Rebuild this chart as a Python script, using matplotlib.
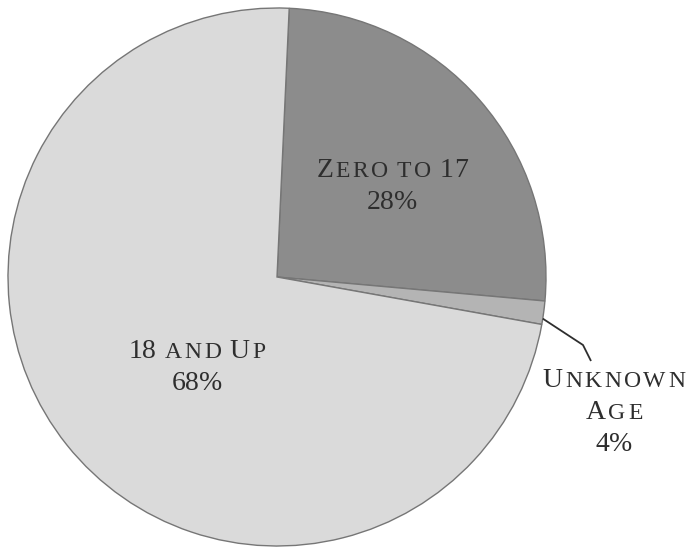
import numpy as np
import matplotlib
matplotlib.use("Agg")
import matplotlib.pyplot as plt

# slice sizes as drawn in the picture, and the labels printed on it
groups = ["Zero to 17", "Unknown Age", "18 and Up"]
shares = [25.7, 1.4, 72.9]
pct_labels = ["28%", "4%", "68%"]
colors = ["#8c8c8c", "#b4b4b4", "#dadada"]

W, H = 692, 552
fig = plt.figure(figsize=(W / 100, H / 100), dpi=100)
ax = fig.add_axes([0, 0, 1, 1])

cx, cy, R = 277, H - 277, 269
wedges, _ = ax.pie(shares, colors=colors, startangle=87.4, counterclock=False,
                   center=(cx, cy), radius=R, frame=True,
                   wedgeprops=dict(edgecolor="#767676", linewidth=1.0))
ax.set_xlim(0, W)
ax.set_ylim(0, H)
ax.set_aspect("equal")
ax.axis("off")

FONT = "Liberation Serif"
BIG, SMALL = 20, 17
TRACK = 2.5  # extra px between letters
renderer = fig.canvas.get_renderer()


def small_caps(x, y, s):
    # fake small caps: capitals at BIG, lower case letters as capitals at SMALL
    items = []
    total = 0
    prev_letter = False
    for ch in s:
        if ch == " ":
            w = 0.32 * BIG * 100 / 72
            items.append((None, w))
            total += w
            prev_letter = False
            continue
        size = SMALL if ch.islower() else BIG
        t = ax.text(0, y, ch.upper(), fontsize=size, family=FONT, color="#2e2e2e",
                    ha="left", va="baseline")
        w = t.get_window_extent(renderer).width
        gap = TRACK if (prev_letter and ch.isalpha()) else 0
        items.append((t, w + gap))
        total += w + gap
        prev_letter = ch.isalpha()
    pos = x - total / 2
    for t, w in items:
        if t is not None:
            t.set_x(pos + (w - t.get_window_extent(renderer).width))
        pos += w


# label lines: (center x, first baseline) in pixels from top
label_pos = {"Zero to 17": (392, 177), "18 and Up": (197, 358), "Unknown Age": (614, 387)}
line_gap = 32

for name, pct in zip(groups, pct_labels):
    lx, ly = label_pos[name]
    lines = ["Unknown", "Age"] if name == "Unknown Age" else [name]
    lines.append(pct)
    for i, ln in enumerate(lines):
        small_caps(lx, H - (ly + i * line_gap), ln)

# leader line for the thin slice
w = wedges[1]
ang = np.deg2rad(w.theta1 + 0.25 * (w.theta2 - w.theta1))
x0, y0 = cx + R * np.cos(ang), cy + R * np.sin(ang)
ax.plot([x0, 583, 591], [y0, H - 345, H - 361], color="#2e2e2e", lw=1.3,
        solid_capstyle="butt")

fig.savefig("out.png", dpi=100)
